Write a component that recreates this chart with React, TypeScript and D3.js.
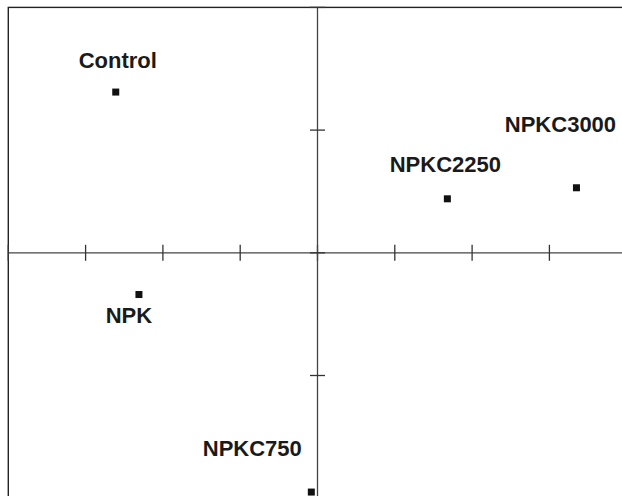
import React, { useEffect, useRef } from 'react';
import * as d3 from 'd3';

// treatment names and their ordination scores
const treatments = ['Control', 'NPK', 'NPKC750', 'NPKC2250', 'NPKC3000'];
const axis1 = [-2.61, -2.31, -0.08, 1.68, 3.35];
const axis2 = [1.31, -0.34, -1.95, 0.44, 0.53];

// axis tick values
const xTicks = [-4, -3, -2, -1, 0, 1, 2, 3, 4];
const yTicks = [-2, -1, 0, 1, 2];

// label offsets from the point (px): [dx, dy]
const labelOffsets = [
  [2, -24],
  [-10, 28],
  [-59, -36],
  [-2, -27],
  [-16, -56],
];

const App = () => {
  const svgRef = useRef(null);

  useEffect(() => {
    const width = 622;
    const height = 496;

    const svg = d3.select(svgRef.current);
    svg.selectAll('*').remove();
    svg.attr('width', width).attr('height', height);

    const x = d3.scaleLinear().domain([-4, 4]).range([8.3, 626.7]);
    const y = d3.scaleLinear().domain([-2, 2]).range([498.2, 7.4]);

    // frame
    svg.append('rect')
      .attr('x', x(-4))
      .attr('y', y(2))
      .attr('width', x(4) - x(-4))
      .attr('height', y(-2) - y(2))
      .attr('fill', 'none')
      .attr('stroke', '#222')
      .attr('stroke-width', 1.4);

    const axisColor = '#444';

    // horizontal axis through origin
    svg.append('line')
      .attr('x1', x(-4)).attr('x2', x(4))
      .attr('y1', y(0)).attr('y2', y(0))
      .attr('stroke', axisColor).attr('stroke-width', 1.3);

    svg.selectAll('.xtick')
      .data(xTicks)
      .enter()
      .append('line')
      .attr('class', 'xtick')
      .attr('x1', d => x(d)).attr('x2', d => x(d))
      .attr('y1', y(0) - 8).attr('y2', y(0) + 8)
      .attr('stroke', '#333').attr('stroke-width', 1.3);

    // vertical axis through origin
    svg.append('line')
      .attr('x1', x(0)).attr('x2', x(0))
      .attr('y1', y(2)).attr('y2', y(-2))
      .attr('stroke', axisColor).attr('stroke-width', 1.3);

    svg.selectAll('.ytick')
      .data(yTicks)
      .enter()
      .append('line')
      .attr('class', 'ytick')
      .attr('x1', x(0) - 7.5).attr('x2', x(0) + 7.5)
      .attr('y1', d => y(d)).attr('y2', d => y(d))
      .attr('stroke', '#333').attr('stroke-width', 1.3);

    // points
    const size = 7;
    svg.selectAll('.pt')
      .data(treatments)
      .enter()
      .append('rect')
      .attr('class', 'pt')
      .attr('x', (d, i) => x(axis1[i]) - size / 2)
      .attr('y', (d, i) => y(axis2[i]) - size / 2)
      .attr('width', size)
      .attr('height', size)
      .attr('fill', '#111');

    // labels
    svg.selectAll('.lbl')
      .data(treatments)
      .enter()
      .append('text')
      .attr('class', 'lbl')
      .attr('x', (d, i) => x(axis1[i]) + labelOffsets[i][0])
      .attr('y', (d, i) => y(axis2[i]) + labelOffsets[i][1])
      .attr('text-anchor', 'middle')
      .attr('font-family', '"Liberation Sans", Arial, Helvetica, sans-serif')
      .attr('font-weight', 'bold')
      .attr('font-size', 22)
      .attr('fill', '#1a1a1a')
      .text(d => d);
  }, []);

  return (
    <svg
      ref={svgRef}
      style={{ position: 'absolute', left: 0, top: 0, background: '#fff' }}
    ></svg>
  );
};

export default App;
